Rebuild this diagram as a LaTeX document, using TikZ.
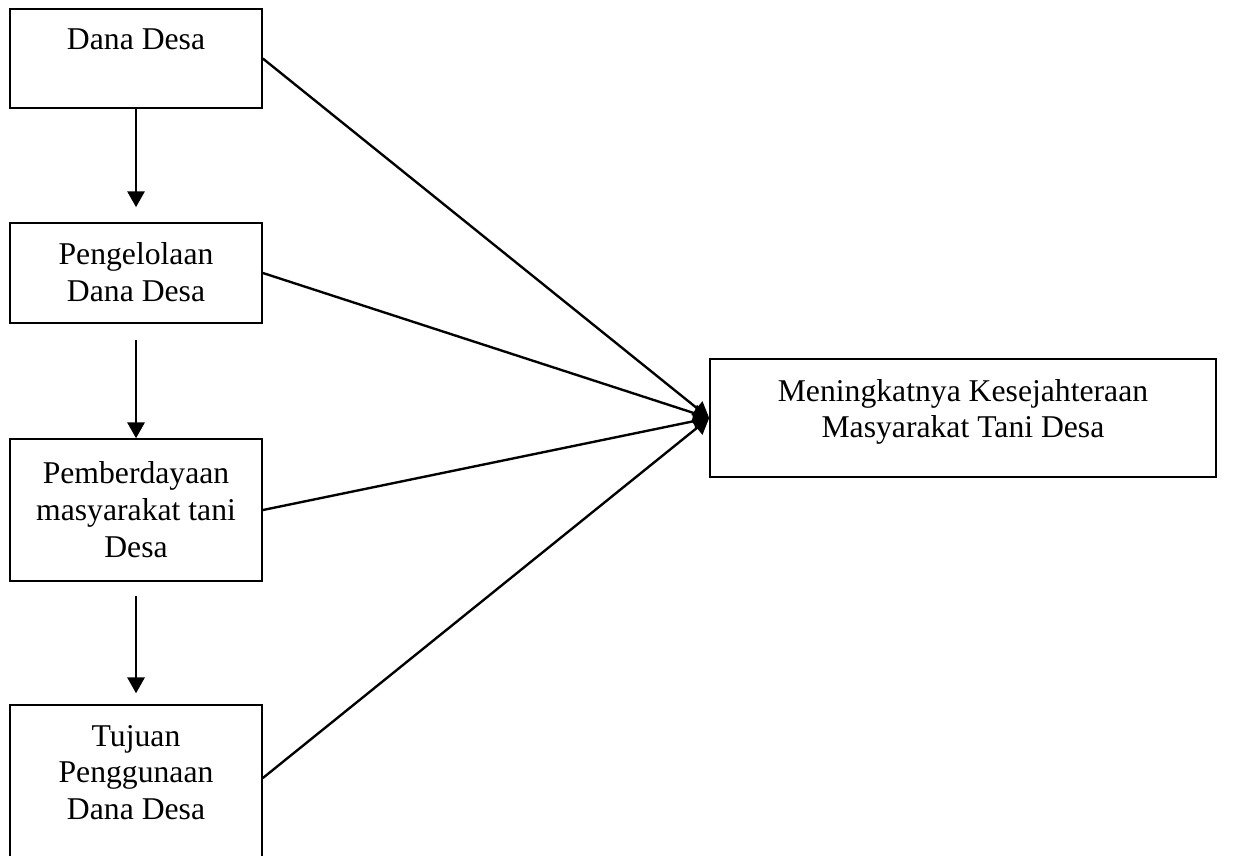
\documentclass[tikz,border=0pt]{standalone}
\usepackage{fontspec}
\setmainfont{Liberation Serif}
\usetikzlibrary{positioning, arrows.meta}

\begin{document}
\begin{tikzpicture}[
    box/.style={draw, line width=0.6pt, minimum width=3.355cm, inner sep=0pt},
    txt/.style={align=center, inner sep=0pt, font=\fontsize{12}{14}\selectfont},
    arr/.style={-{Triangle[width=6.5pt,length=6pt]}, line width=0.9pt}
  ]
  \useasboundingbox (0,0) rectangle (16.668,-11.383);

  % boxes
  \node[box, minimum height=1.318cm] (dana)    at (1.811,-0.779)  {};
  \node[box, minimum height=1.331cm] (kelola)  at (1.811,-3.634)  {};
  \node[box, minimum height=1.890cm] (berdaya) at (1.811,-6.790)  {};
  \node[box, minimum height=2.064cm] (tujuan)  at (1.811,-10.418) {};
  \node[box, minimum width=6.736cm, minimum height=1.571cm] (sejahtera) at (12.820,-5.565) {};

  % texts, top aligned
  \node[txt, below=0.27cm of dana.north]      (dana-t)      {Dana Desa};
  \node[txt, below=0.27cm of kelola.north]    (kelola-t)    {Pengelolaan\\Dana Desa};
  \node[txt, below=0.30cm of berdaya.north]   (berdaya-t)   {Pemberdayaan\\masyarakat tani\\Desa};
  \node[txt, below=0.27cm of tujuan.north]    (tujuan-t)    {Tujuan\\Penggunaan\\Dana Desa};
  \node[txt, below=0.27cm of sejahtera.north] (sejahtera-t) {Meningkatnya Kesejahteraan\\Masyarakat Tani Desa};

  \draw[arr, shorten >=0.2cm] (dana) -- (kelola);
  \draw[arr, shorten <=0.213cm] (kelola) -- (berdaya);
  \draw[arr, shorten <=0.186cm, shorten >=0.146cm] (berdaya) -- (tujuan);

  \draw[arr] (dana.east)    -- (sejahtera.west);
  \draw[arr] (kelola.east)  -- (sejahtera.west);
  \draw[arr] (berdaya.east) -- (sejahtera.west);
  \draw[arr] ([yshift=0.06cm]tujuan.east) -- (sejahtera.west);
\end{tikzpicture}
\end{document}
